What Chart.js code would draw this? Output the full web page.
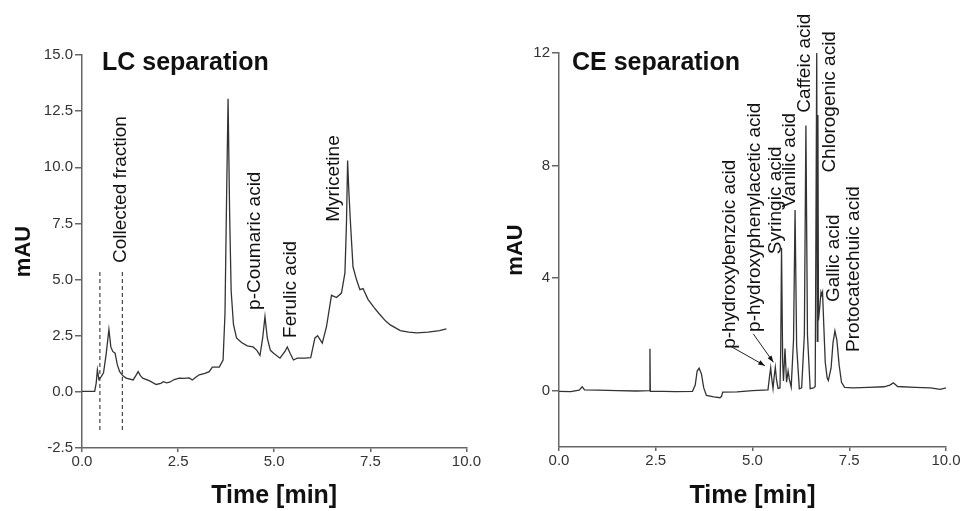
<!DOCTYPE html>
<html>
<head>
<meta charset="utf-8">
<script src="https://cdn.jsdelivr.net/npm/chart.js@4.4.1/dist/chart.umd.min.js"></script>
<style>
  html, body { margin: 0; padding: 0; background: #fff; }
  .wrap { display: flex; width: 964px; height: 511px; }
  canvas { display: block; }
</style>
</head>
<body>
<div class="wrap">
  <canvas id="lcChart" width="482" height="511"></canvas>
  <canvas id="ceChart" width="482" height="511"></canvas>
</div>
<script>
// shared x axis
const timeTicks = [0, 2.5, 5, 7.5, 10];

// LC chromatogram
const lcTime = [0, 0.33, 0.37, 0.40, 0.44, 0.50, 0.56, 0.63, 0.70, 0.75, 0.80, 0.86, 0.92, 0.98, 1.07, 1.15, 1.33, 1.40, 1.46, 1.52,
  1.58, 1.76, 1.93, 2.05, 2.12, 2.20, 2.28, 2.40, 2.53, 2.65, 2.79, 2.87, 2.96, 3.05, 3.20, 3.31, 3.39, 3.57, 3.67, 3.72,
  3.76, 3.80, 3.84, 3.88, 3.94, 4.02, 4.15, 4.30, 4.45, 4.55, 4.63, 4.70, 4.76, 4.82, 4.90, 5.00, 5.15, 5.28, 5.34, 5.42,
  5.50, 5.60, 5.80, 5.95, 6.06, 6.13, 6.25, 6.36, 6.49, 6.62, 6.75, 6.84, 6.88, 6.91, 6.94, 6.98, 7.05, 7.14, 7.23, 7.31,
  7.44, 7.60, 7.72, 7.90, 8.02, 8.28, 8.50, 8.71, 9.00, 9.30, 9.48];
const lcSignal = [0.02, 0.02, 0.4, 0.98, 0.55, 0.68, 0.85, 1.7, 2.78, 2.0, 1.8, 1.72, 1.2, 0.9, 0.7, 0.61, 0.53, 0.72, 0.9, 0.72,
  0.61, 0.49, 0.33, 0.38, 0.45, 0.40, 0.43, 0.55, 0.61, 0.60, 0.62, 0.53, 0.65, 0.76, 0.82, 0.90, 1.10, 1.10, 1.42, 3.5,
  8.5, 13.05, 8.0, 4.5, 3.0, 2.4, 2.2, 2.05, 2.0, 1.85, 1.62, 2.4, 3.35, 2.4, 1.85, 1.7, 1.5, 1.8, 2.0, 1.7,
  1.42, 1.5, 1.5, 1.52, 2.4, 2.5, 2.17, 2.9, 4.3, 4.2, 4.4, 5.3, 7.5, 10.3, 9.0, 7.65, 5.57, 5.0, 4.55, 4.6,
  4.12, 3.75, 3.5, 3.15, 2.98, 2.73, 2.66, 2.63, 2.66, 2.73, 2.8];
const lcYTicks = [-2.5, 0, 2.5, 5, 7.5, 10, 12.5, 15];
const fractionTimes = [0.465, 1.05];
const fractionLevels = [-1.7, 5.43];
const lcPeakNames = ['Collected fraction', 'p-Coumaric acid', 'Ferulic acid', 'Myricetine'];
const lcLabelTime = [1.01, 4.50, 5.43, 6.54];
const lcLabelLevel = [5.74, 3.65, 2.40, 7.57];

// CE electropherogram
const ceTime = [0, 0.30, 0.52, 0.60, 0.66, 1.00, 1.50, 2.00, 2.34, 2.35, 2.36, 2.70, 3.00, 3.45, 3.52, 3.57, 3.62, 3.68, 3.74, 3.81,
  4.00, 4.16, 4.20, 4.23, 4.60, 5.00, 5.40, 5.44, 5.47, 5.50, 5.53, 5.56, 5.59, 5.62, 5.66, 5.71, 5.73, 5.75, 5.78, 5.80,
  5.84, 5.88, 5.92, 5.95, 6.00, 6.06, 6.10, 6.14, 6.21, 6.27, 6.34, 6.38, 6.42, 6.49, 6.58, 6.62, 6.66, 6.675, 6.69, 6.705,
  6.74, 6.77, 6.79, 6.81, 6.84, 6.88, 6.93, 6.96, 7.03, 7.08, 7.13, 7.18, 7.24, 7.30, 7.38, 7.60, 8.00, 8.40, 8.55, 8.64,
  8.75, 9.20, 9.60, 9.85, 10.00];
const ceSignal = [-0.02, -0.03, 0.02, 0.14, 0.03, 0.02, 0.0, -0.01, 0.0, 1.49, -0.02, -0.02, -0.03, -0.02, 0.2, 0.7, 0.8, 0.6, 0.1, -0.17,
  -0.22, -0.25, -0.2, -0.05, -0.04, 0.0, 0.03, 0.5, 0.81, 0.4, 0.08, 0.5, 0.83, 0.4, 0.08, 0.1, 1.5, 5.08, 1.0, 0.35,
  1.5, 0.3, 0.7, 0.42, 0.13, 1.8, 6.42, 1.6, 0.07, 0.1, 2.0, 9.42, 2.0, 0.07, 0.1, 0.15, 12.0, 1.75, 9.8, 2.5,
  3.0, 3.5, 3.4, 3.5, 2.4, 1.0, 0.45, 0.36, 0.8, 1.7, 2.13, 1.8, 0.9, 0.3, 0.12, 0.1, 0.12, 0.14, 0.2, 0.28,
  0.15, 0.12, 0.1, 0.05, 0.1];
const ceYTicks = [0, 4, 8, 12];
const cePeakNames = ['p-hydroxybenzoic acid', 'p-hydroxyphenylacetic acid', 'Syringic acid', 'Vanilic acid',
  'Caffeic acid', 'Chlorogenic acid', 'Gallic acid', 'Protocatechuic acid'];
const ceLabelTime = [4.42, 5.06, 5.61, 5.97, 6.36, 7.00, 7.11, 7.62];
const ceLabelLevel = [1.49, 2.09, 4.85, 6.51, 9.88, 7.75, 3.15, 1.38];
const ceArrowFrom = [[4.42, 1.59], [5.02, 2.02]];
const ceArrowTo = [[5.32, 0.89], [5.54, 1.01]];

const FONT = '"Liberation Sans", Arial, Helvetica, sans-serif';
const toPoints = (xs, ys) => xs.map((x, i) => ({ x, y: ys[i] }));

const makeAnnotations = (cfg) => ({
    id: 'annotations',
    afterDraw: (chart) => {
        const { ctx, chartArea, scales: { x, y } } = chart;
        ctx.save();
        ctx.fillStyle = '#111';
        ctx.strokeStyle = '#222';
        ctx.font = `bold 25px ${FONT}`;
        ctx.textBaseline = 'alphabetic';
        ctx.fillText(cfg.title, chartArea.left + cfg.titleDx, chartArea.top + cfg.titleDy);

        ctx.font = `19px ${FONT}`;
        ctx.textAlign = 'left';
        ctx.textBaseline = 'middle';
        cfg.names.forEach((name, i) => {
            ctx.save();
            ctx.translate(x.getPixelForValue(cfg.times[i]), y.getPixelForValue(cfg.levels[i]));
            ctx.rotate(-Math.PI / 2);
            ctx.fillText(name, 0, 0);
            ctx.restore();
        });

        (cfg.arrowsFrom || []).forEach((from, i) => {
            const x1 = x.getPixelForValue(from[0]), y1 = y.getPixelForValue(from[1]);
            const x2 = x.getPixelForValue(cfg.arrowsTo[i][0]), y2 = y.getPixelForValue(cfg.arrowsTo[i][1]);
            const a = Math.atan2(y2 - y1, x2 - x1);
            ctx.lineWidth = 1;
            ctx.beginPath();
            ctx.moveTo(x1, y1);
            ctx.lineTo(x2, y2);
            ctx.stroke();
            ctx.beginPath();
            ctx.moveTo(x2, y2);
            ctx.lineTo(x2 - 7 * Math.cos(a - 0.35), y2 - 7 * Math.sin(a - 0.35));
            ctx.lineTo(x2 - 7 * Math.cos(a + 0.35), y2 - 7 * Math.sin(a + 0.35));
            ctx.closePath();
            ctx.fill();
        });
        ctx.restore();
    },
});

const makeScales = (yMin, yMax, yTicks, yFormat, yWidth, xHeight) => ({
    x: {
        type: 'linear', min: 0, max: 10,
        afterBuildTicks: (scale) => { scale.ticks = timeTicks.map(v => ({ value: v })); },
        afterFit: (scale) => { scale.height = xHeight; },
        border: { display: true, color: '#666', width: 1.5 },
        grid: { display: true, drawOnChartArea: false, drawTicks: true, tickLength: 4, color: '#666', lineWidth: 1.5 },
        ticks: { padding: 1, maxRotation: 0, color: '#333', font: { family: FONT, size: 15 }, callback: v => v.toFixed(1) },
        title: { display: true, text: 'Time [min]', color: '#111', padding: { top: 0, bottom: 0 }, font: { family: FONT, size: 25, weight: 'bold' } },
    },
    y: {
        type: 'linear', min: yMin, max: yMax,
        afterBuildTicks: (scale) => { scale.ticks = yTicks.map(v => ({ value: v })); },
        afterFit: (scale) => { scale.width = yWidth; },
        border: { display: true, color: '#666', width: 1.5 },
        grid: { display: true, drawOnChartArea: false, drawTicks: true, tickLength: 7, color: '#666', lineWidth: 1.5 },
        ticks: { padding: 2, color: '#333', font: { family: FONT, size: 15 }, callback: yFormat },
        title: { display: true, text: 'mAU', color: '#111', padding: { top: 4, bottom: 0 }, font: { family: FONT, size: 22, weight: 'bold' } },
    },
});

const traceStyle = { borderColor: '#333', borderWidth: 1.3, pointRadius: 0, tension: 0, fill: false };
const dashStyle = { borderColor: '#444', borderWidth: 1.2, borderDash: [4, 3], pointRadius: 0, fill: false };

new Chart(document.getElementById('lcChart'), {
    type: 'line',
    data: {
        datasets: [
            { label: 'LC', data: toPoints(lcTime, lcSignal), ...traceStyle },
            ...fractionTimes.map(t => ({ label: 'fraction', data: toPoints([t, t], fractionLevels), ...dashStyle })),
        ],
    },
    options: {
        responsive: false,
        animation: false,
        devicePixelRatio: 1,
        layout: { padding: { left: 7, right: 13, top: 55, bottom: 0 } },
        plugins: { legend: { display: false }, tooltip: { enabled: false } },
        scales: makeScales(-2.5, 15, lcYTicks, v => v.toFixed(1), 75, 63),
    },
    plugins: [makeAnnotations({
        title: 'LC separation', titleDx: 20, titleDy: 15,
        names: lcPeakNames, times: lcLabelTime, levels: lcLabelLevel,
    })],
});

new Chart(document.getElementById('ceChart'), {
    type: 'line',
    data: {
        datasets: [
            { label: 'CE', data: toPoints(ceTime, ceSignal), ...traceStyle },
        ],
    },
    options: {
        responsive: false,
        animation: false,
        devicePixelRatio: 1,
        layout: { padding: { left: 17, right: 18, top: 53, bottom: 0 } },
        plugins: { legend: { display: false }, tooltip: { enabled: false } },
        scales: makeScales(-2, 12, ceYTicks, v => String(v), 60, 64),
    },
    plugins: [makeAnnotations({
        title: 'CE separation', titleDx: 13, titleDy: 17,
        names: cePeakNames, times: ceLabelTime, levels: ceLabelLevel,
        arrowsFrom: ceArrowFrom, arrowsTo: ceArrowTo,
    })],
});
</script>
</body>
</html>
